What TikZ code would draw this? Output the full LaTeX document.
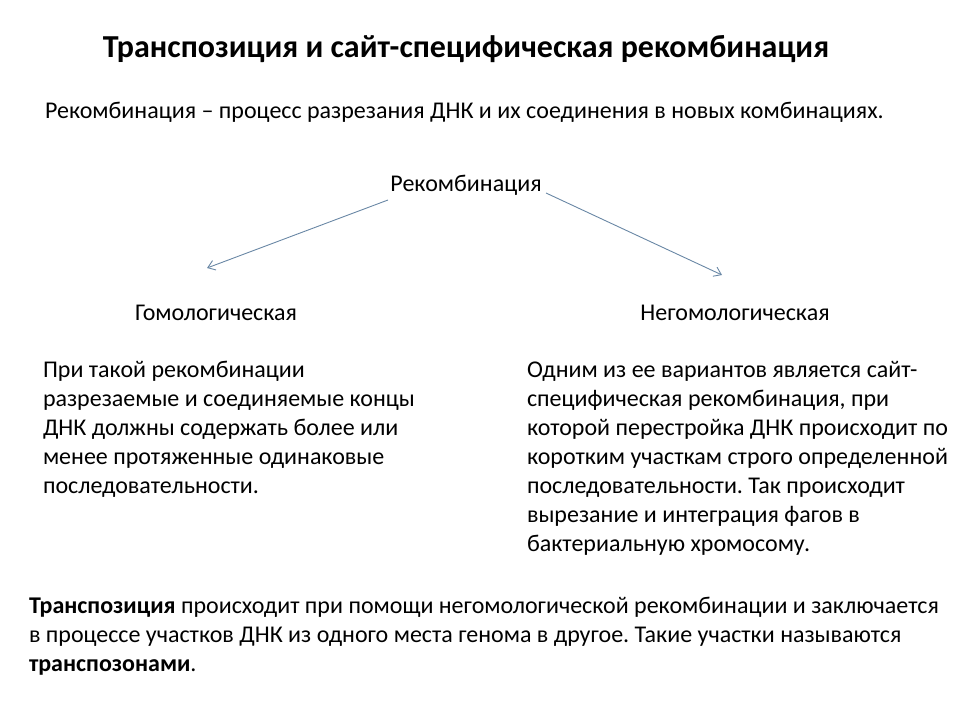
\documentclass[tikz,border=0pt]{standalone}
\usepackage{fontspec}
\setmainfont{Carlito}
\usetikzlibrary{arrows.meta}
\frenchspacing
\definecolor{arrowc}{RGB}{105,135,165}
\tikzset{
  txt/.style={inner sep=0pt, outer sep=0pt, font=\fontsize{24}{29}\selectfont, text=black},
  para/.style={txt, align=left, anchor=north west},
  conn/.style={draw=arrowc, line width=0.9pt, -{Straight Barb[length=7pt,width=10pt]}}
}
\begin{document}
\begin{tikzpicture}[x=1pt,y=-1pt]
\useasboundingbox (0,0) rectangle (960,720);
\node[txt, font=\bfseries\fontsize{32}{36}\selectfont] (title) at (466,49) {Транспозиция и сайт-специфическая рекомбинация};
\node[txt, anchor=west] (def) at (45,112) {Рекомбинация – процесс разрезания ДНК и их соединения в новых комбинациях.};
\node[txt] (rec) at (466,185) {Рекомбинация};
\node[txt] (hom) at (216,313) {Гомологическая};
\node[txt] (nonhom) at (735,313) {Негомологическая};
\coordinate (ls) at (388,200);
\coordinate (le) at (207,268);
\coordinate (rs) at (546,193);
\coordinate (re) at (722,275);
\draw[conn] (ls) -- (le);
\draw[conn] (rs) -- (re);
\node[para] (hp) at (43,361) {При такой рекомбинации\\разрезаемые и соединяемые концы\\ДНК должны содержать более или\\менее протяженные одинаковые\\последовательности.};
\node[para] (np) at (527,361) {Одним из ее вариантов является сайт-\\специфическая рекомбинация, при\\которой перестройка ДНК происходит по\\коротким участкам строго определенной\\последовательности. Так происходит\\вырезание и интеграция фагов в\\бактериальную хромосому.};
\node[para] (tp) at (29,597) {\textbf{Транспозиция} происходит при помощи негомологической рекомбинации и заключается\\в процессе участков ДНК из одного места генома в другое. Такие участки называются\\\textbf{транспозонами}.};
\end{tikzpicture}
\end{document}
